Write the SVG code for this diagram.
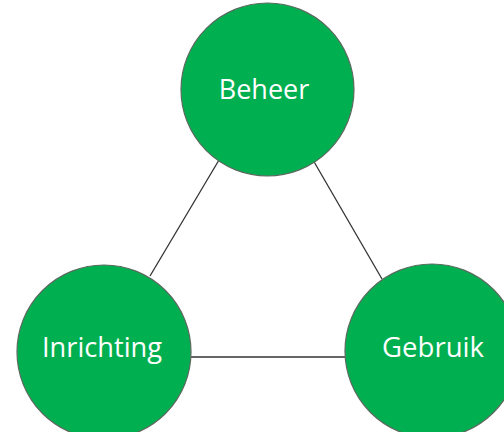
<svg xmlns="http://www.w3.org/2000/svg" width="504" height="432" viewBox="0 0 504 432">
<style>
.node{fill:#00B050;stroke:#5a6b5f;stroke-width:1.2}
.lbl{fill:#ffffff;font-family:"Open Sans","Liberation Sans",sans-serif;font-size:27px;text-anchor:middle}
.edge{stroke:#333333;stroke-width:1.3;fill:none}
</style>
<rect width="504" height="432" fill="#ffffff"/>
<g id="connectors">
<line class="edge" x1="219" y1="160" x2="150" y2="276"/>
<line class="edge" x1="313" y1="160" x2="382" y2="279"/>
<line class="edge" x1="191" y1="357" x2="345" y2="357"/>
</g>
<g id="beheer">
<circle class="node" cx="267.5" cy="89.5" r="86.5"/>
<text class="lbl" x="264" y="99">Beheer</text>
</g>
<g id="inrichting">
<circle class="node" cx="104" cy="352" r="87"/>
<text class="lbl" x="102" y="357" textLength="120" lengthAdjust="spacingAndGlyphs">Inrichting</text>
</g>
<g id="gebruik">
<circle class="node" cx="432" cy="351" r="87"/>
<text class="lbl" x="433" y="357" textLength="102" lengthAdjust="spacingAndGlyphs">Gebruik</text>
</g>
</svg>
